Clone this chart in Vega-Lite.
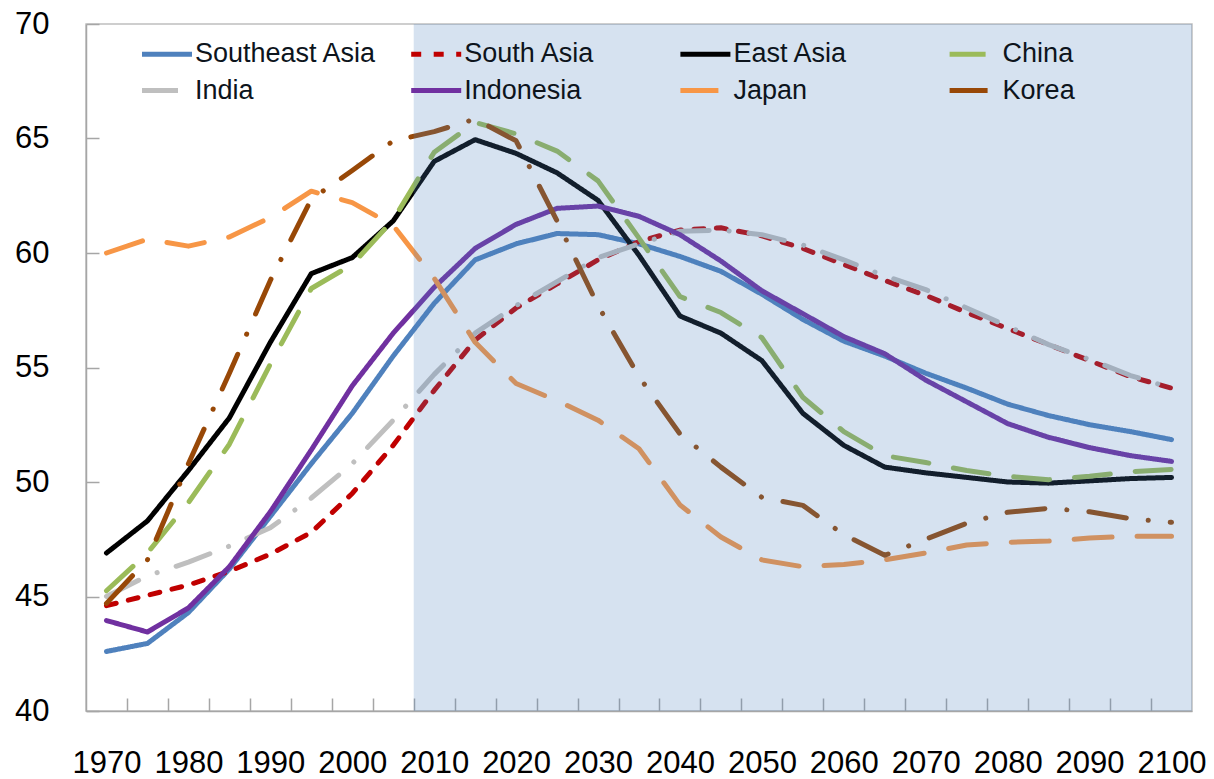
{
  "$schema": "https://vega.github.io/schema/vega-lite/v6.json",
  "width": 1106,
  "height": 687,
  "autosize": {"type": "none"},
  "padding": {"left": 86, "top": 24, "right": 22, "bottom": 68},
  "background": "white",
  "config": {
    "font": "Liberation Sans",
    "view": {"stroke": "#bfbfbf", "strokeWidth": 1.5}
  },
  "data": {
    "values": [
      {"region": "Southeast Asia", "year": 1970, "value": 42.6},
      {"region": "Southeast Asia", "year": 1975, "value": 42.95},
      {"region": "Southeast Asia", "year": 1980, "value": 44.3},
      {"region": "Southeast Asia", "year": 1985, "value": 46.2},
      {"region": "Southeast Asia", "year": 1990, "value": 48.5},
      {"region": "Southeast Asia", "year": 1995, "value": 50.8},
      {"region": "Southeast Asia", "year": 2000, "value": 53.0},
      {"region": "Southeast Asia", "year": 2005, "value": 55.5},
      {"region": "Southeast Asia", "year": 2010, "value": 57.8},
      {"region": "Southeast Asia", "year": 2015, "value": 59.7},
      {"region": "Southeast Asia", "year": 2020, "value": 60.4},
      {"region": "Southeast Asia", "year": 2025, "value": 60.85},
      {"region": "Southeast Asia", "year": 2030, "value": 60.8},
      {"region": "Southeast Asia", "year": 2035, "value": 60.4},
      {"region": "Southeast Asia", "year": 2040, "value": 59.85},
      {"region": "Southeast Asia", "year": 2045, "value": 59.2},
      {"region": "Southeast Asia", "year": 2050, "value": 58.2},
      {"region": "Southeast Asia", "year": 2055, "value": 57.1},
      {"region": "Southeast Asia", "year": 2060, "value": 56.15},
      {"region": "Southeast Asia", "year": 2065, "value": 55.5},
      {"region": "Southeast Asia", "year": 2070, "value": 54.75},
      {"region": "Southeast Asia", "year": 2075, "value": 54.1},
      {"region": "Southeast Asia", "year": 2080, "value": 53.4},
      {"region": "Southeast Asia", "year": 2085, "value": 52.9},
      {"region": "Southeast Asia", "year": 2090, "value": 52.5},
      {"region": "Southeast Asia", "year": 2095, "value": 52.2},
      {"region": "Southeast Asia", "year": 2100, "value": 51.85},

      {"region": "South Asia", "year": 1970, "value": 44.6},
      {"region": "South Asia", "year": 1975, "value": 45.05},
      {"region": "South Asia", "year": 1980, "value": 45.5},
      {"region": "South Asia", "year": 1985, "value": 46.1},
      {"region": "South Asia", "year": 1990, "value": 46.85},
      {"region": "South Asia", "year": 1995, "value": 47.8},
      {"region": "South Asia", "year": 2000, "value": 49.5},
      {"region": "South Asia", "year": 2005, "value": 51.6},
      {"region": "South Asia", "year": 2010, "value": 54.0},
      {"region": "South Asia", "year": 2015, "value": 56.2},
      {"region": "South Asia", "year": 2020, "value": 57.6},
      {"region": "South Asia", "year": 2025, "value": 58.65},
      {"region": "South Asia", "year": 2030, "value": 59.7},
      {"region": "South Asia", "year": 2035, "value": 60.5},
      {"region": "South Asia", "year": 2040, "value": 61.0},
      {"region": "South Asia", "year": 2045, "value": 61.1},
      {"region": "South Asia", "year": 2050, "value": 60.75},
      {"region": "South Asia", "year": 2055, "value": 60.2},
      {"region": "South Asia", "year": 2060, "value": 59.5},
      {"region": "South Asia", "year": 2065, "value": 58.8},
      {"region": "South Asia", "year": 2070, "value": 58.15},
      {"region": "South Asia", "year": 2075, "value": 57.4},
      {"region": "South Asia", "year": 2080, "value": 56.7},
      {"region": "South Asia", "year": 2085, "value": 56.0},
      {"region": "South Asia", "year": 2090, "value": 55.3},
      {"region": "South Asia", "year": 2095, "value": 54.6},
      {"region": "South Asia", "year": 2100, "value": 54.1},

      {"region": "East Asia", "year": 1970, "value": 46.9},
      {"region": "East Asia", "year": 1975, "value": 48.3},
      {"region": "East Asia", "year": 1980, "value": 50.5},
      {"region": "East Asia", "year": 1985, "value": 52.8},
      {"region": "East Asia", "year": 1990, "value": 56.1},
      {"region": "East Asia", "year": 1995, "value": 59.1},
      {"region": "East Asia", "year": 2000, "value": 59.8},
      {"region": "East Asia", "year": 2005, "value": 61.4},
      {"region": "East Asia", "year": 2010, "value": 64.0},
      {"region": "East Asia", "year": 2015, "value": 64.95},
      {"region": "East Asia", "year": 2020, "value": 64.35},
      {"region": "East Asia", "year": 2025, "value": 63.5},
      {"region": "East Asia", "year": 2030, "value": 62.3},
      {"region": "East Asia", "year": 2035, "value": 59.9},
      {"region": "East Asia", "year": 2040, "value": 57.25},
      {"region": "East Asia", "year": 2045, "value": 56.5},
      {"region": "East Asia", "year": 2050, "value": 55.3},
      {"region": "East Asia", "year": 2055, "value": 53.0},
      {"region": "East Asia", "year": 2060, "value": 51.6},
      {"region": "East Asia", "year": 2065, "value": 50.65},
      {"region": "East Asia", "year": 2070, "value": 50.4},
      {"region": "East Asia", "year": 2075, "value": 50.2},
      {"region": "East Asia", "year": 2080, "value": 50.0},
      {"region": "East Asia", "year": 2085, "value": 49.95},
      {"region": "East Asia", "year": 2090, "value": 50.05},
      {"region": "East Asia", "year": 2095, "value": 50.15},
      {"region": "East Asia", "year": 2100, "value": 50.2},

      {"region": "China", "year": 1970, "value": 45.25},
      {"region": "China", "year": 1975, "value": 46.9},
      {"region": "China", "year": 1980, "value": 49.1},
      {"region": "China", "year": 1985, "value": 51.65},
      {"region": "China", "year": 1990, "value": 55.15},
      {"region": "China", "year": 1995, "value": 58.45},
      {"region": "China", "year": 2000, "value": 59.5},
      {"region": "China", "year": 2005, "value": 61.45},
      {"region": "China", "year": 2010, "value": 64.4},
      {"region": "China", "year": 2015, "value": 65.7},
      {"region": "China", "year": 2020, "value": 65.2},
      {"region": "China", "year": 2025, "value": 64.45},
      {"region": "China", "year": 2030, "value": 63.15},
      {"region": "China", "year": 2035, "value": 60.65},
      {"region": "China", "year": 2040, "value": 58.1},
      {"region": "China", "year": 2045, "value": 57.4},
      {"region": "China", "year": 2050, "value": 56.3},
      {"region": "China", "year": 2055, "value": 53.7},
      {"region": "China", "year": 2060, "value": 52.2},
      {"region": "China", "year": 2065, "value": 51.15},
      {"region": "China", "year": 2070, "value": 50.85},
      {"region": "China", "year": 2075, "value": 50.5},
      {"region": "China", "year": 2080, "value": 50.25},
      {"region": "China", "year": 2085, "value": 50.1},
      {"region": "China", "year": 2090, "value": 50.25},
      {"region": "China", "year": 2095, "value": 50.45},
      {"region": "China", "year": 2100, "value": 50.55},

      {"region": "India", "year": 1970, "value": 45.0},
      {"region": "India", "year": 1975, "value": 45.9},
      {"region": "India", "year": 1980, "value": 46.5},
      {"region": "India", "year": 1985, "value": 47.2},
      {"region": "India", "year": 1990, "value": 48.0},
      {"region": "India", "year": 1995, "value": 49.3},
      {"region": "India", "year": 2000, "value": 50.8},
      {"region": "India", "year": 2005, "value": 52.7},
      {"region": "India", "year": 2010, "value": 54.7},
      {"region": "India", "year": 2015, "value": 56.5},
      {"region": "India", "year": 2020, "value": 57.7},
      {"region": "India", "year": 2025, "value": 58.75},
      {"region": "India", "year": 2030, "value": 59.8},
      {"region": "India", "year": 2035, "value": 60.4},
      {"region": "India", "year": 2040, "value": 60.95},
      {"region": "India", "year": 2045, "value": 61.0},
      {"region": "India", "year": 2050, "value": 60.8},
      {"region": "India", "year": 2055, "value": 60.35},
      {"region": "India", "year": 2060, "value": 59.7},
      {"region": "India", "year": 2065, "value": 59.0},
      {"region": "India", "year": 2070, "value": 58.4},
      {"region": "India", "year": 2075, "value": 57.6},
      {"region": "India", "year": 2080, "value": 56.8},
      {"region": "India", "year": 2085, "value": 56.0},
      {"region": "India", "year": 2090, "value": 55.35},
      {"region": "India", "year": 2095, "value": 54.65},
      {"region": "India", "year": 2100, "value": 54.1},

      {"region": "Indonesia", "year": 1970, "value": 43.95},
      {"region": "Indonesia", "year": 1975, "value": 43.45},
      {"region": "Indonesia", "year": 1980, "value": 44.5},
      {"region": "Indonesia", "year": 1985, "value": 46.3},
      {"region": "Indonesia", "year": 1990, "value": 48.7},
      {"region": "Indonesia", "year": 1995, "value": 51.4},
      {"region": "Indonesia", "year": 2000, "value": 54.2},
      {"region": "Indonesia", "year": 2005, "value": 56.5},
      {"region": "Indonesia", "year": 2010, "value": 58.5},
      {"region": "Indonesia", "year": 2015, "value": 60.2},
      {"region": "Indonesia", "year": 2020, "value": 61.25},
      {"region": "Indonesia", "year": 2025, "value": 61.95},
      {"region": "Indonesia", "year": 2030, "value": 62.05},
      {"region": "Indonesia", "year": 2035, "value": 61.6},
      {"region": "Indonesia", "year": 2040, "value": 60.8},
      {"region": "Indonesia", "year": 2045, "value": 59.65},
      {"region": "Indonesia", "year": 2050, "value": 58.35},
      {"region": "Indonesia", "year": 2055, "value": 57.35},
      {"region": "Indonesia", "year": 2060, "value": 56.35},
      {"region": "Indonesia", "year": 2065, "value": 55.6},
      {"region": "Indonesia", "year": 2070, "value": 54.45},
      {"region": "Indonesia", "year": 2075, "value": 53.5},
      {"region": "Indonesia", "year": 2080, "value": 52.55},
      {"region": "Indonesia", "year": 2085, "value": 51.95},
      {"region": "Indonesia", "year": 2090, "value": 51.5},
      {"region": "Indonesia", "year": 2095, "value": 51.15},
      {"region": "Indonesia", "year": 2100, "value": 50.9},

      {"region": "Japan", "year": 1970, "value": 60.0},
      {"region": "Japan", "year": 1975, "value": 60.6},
      {"region": "Japan", "year": 1980, "value": 60.3},
      {"region": "Japan", "year": 1985, "value": 60.7},
      {"region": "Japan", "year": 1990, "value": 61.55},
      {"region": "Japan", "year": 1995, "value": 62.7},
      {"region": "Japan", "year": 2000, "value": 62.2},
      {"region": "Japan", "year": 2005, "value": 61.2},
      {"region": "Japan", "year": 2010, "value": 58.9},
      {"region": "Japan", "year": 2015, "value": 56.1},
      {"region": "Japan", "year": 2020, "value": 54.3},
      {"region": "Japan", "year": 2025, "value": 53.55},
      {"region": "Japan", "year": 2030, "value": 52.7},
      {"region": "Japan", "year": 2035, "value": 51.45},
      {"region": "Japan", "year": 2040, "value": 49.0},
      {"region": "Japan", "year": 2045, "value": 47.6},
      {"region": "Japan", "year": 2050, "value": 46.6},
      {"region": "Japan", "year": 2055, "value": 46.3},
      {"region": "Japan", "year": 2060, "value": 46.4},
      {"region": "Japan", "year": 2065, "value": 46.6},
      {"region": "Japan", "year": 2070, "value": 46.9},
      {"region": "Japan", "year": 2075, "value": 47.25},
      {"region": "Japan", "year": 2080, "value": 47.37},
      {"region": "Japan", "year": 2085, "value": 47.42},
      {"region": "Japan", "year": 2090, "value": 47.55},
      {"region": "Japan", "year": 2095, "value": 47.63},
      {"region": "Japan", "year": 2100, "value": 47.63},

      {"region": "Korea", "year": 1970, "value": 44.7},
      {"region": "Korea", "year": 1975, "value": 46.6},
      {"region": "Korea", "year": 1980, "value": 50.8},
      {"region": "Korea", "year": 1985, "value": 54.75},
      {"region": "Korea", "year": 1990, "value": 58.8},
      {"region": "Korea", "year": 1995, "value": 62.35},
      {"region": "Korea", "year": 2000, "value": 63.6},
      {"region": "Korea", "year": 2005, "value": 64.9},
      {"region": "Korea", "year": 2010, "value": 65.3},
      {"region": "Korea", "year": 2015, "value": 65.85},
      {"region": "Korea", "year": 2020, "value": 64.9},
      {"region": "Korea", "year": 2025, "value": 61.4},
      {"region": "Korea", "year": 2030, "value": 57.7},
      {"region": "Korea", "year": 2035, "value": 54.6},
      {"region": "Korea", "year": 2040, "value": 52.1},
      {"region": "Korea", "year": 2045, "value": 50.65},
      {"region": "Korea", "year": 2050, "value": 49.33},
      {"region": "Korea", "year": 2055, "value": 48.98},
      {"region": "Korea", "year": 2060, "value": 47.7},
      {"region": "Korea", "year": 2065, "value": 46.8},
      {"region": "Korea", "year": 2070, "value": 47.5},
      {"region": "Korea", "year": 2075, "value": 48.2},
      {"region": "Korea", "year": 2080, "value": 48.68},
      {"region": "Korea", "year": 2085, "value": 48.85},
      {"region": "Korea", "year": 2090, "value": 48.7},
      {"region": "Korea", "year": 2095, "value": 48.4},
      {"region": "Korea", "year": 2100, "value": 48.24}
    ]
  },
  "resolve": {"axis": {"x": "independent"}},
  "layer": [
    {
      "mark": {"type": "line", "strokeWidth": 5, "strokeCap": "round", "strokeJoin": "round"},
      "encoding": {
        "x": {
          "field": "year",
          "type": "quantitative",
          "scale": {"domain": [1967.5, 2102.5], "nice": false, "zero": false},
          "axis": {
            "orient": "bottom",
            "title": null,
            "values": [1972.5, 1977.5, 1982.5, 1987.5, 1992.5, 1997.5, 2002.5, 2007.5, 2012.5, 2017.5, 2022.5, 2027.5, 2032.5,
                       2037.5, 2042.5, 2047.5, 2052.5, 2057.5, 2062.5, 2067.5, 2072.5, 2077.5, 2082.5, 2087.5, 2092.5, 2097.5],
            "labels": false,
            "tickSize": -13,
            "tickColor": "#a6a6a6",
            "tickWidth": 1.5,
            "domainColor": "#a6a6a6",
            "domainWidth": 1.5,
            "grid": false
          }
        },
        "y": {
          "field": "value",
          "type": "quantitative",
          "scale": {"domain": [40, 70], "nice": false, "zero": false},
          "axis": {
            "title": null,
            "values": [40, 45, 50, 55, 60, 65, 70],
            "tickSize": -13,
            "tickColor": "#a6a6a6",
            "tickWidth": 1.5,
            "domainColor": "#a6a6a6",
            "domainWidth": 1.5,
            "labelFontSize": 31,
            "labelColor": "#000000",
            "labelPadding": 50,
            "labelOverlap": false,
            "labelFlush": false,
            "grid": false
          }
        },
        "color": {
          "field": "region",
          "type": "nominal",
          "scale": {
            "domain": ["Southeast Asia", "South Asia", "East Asia", "China", "India", "Indonesia", "Japan", "Korea"],
            "range": ["#4f81bd", "#c00000", "#000000", "#9bbb59", "#bfbfbf", "#7030a0", "#f79646", "#984807"]
          },
          "legend": {
            "orient": "none",
            "legendX": 55,
            "legendY": 16.5,
            "direction": "horizontal",
            "columns": 4,
            "title": null,
            "padding": 0,
            "symbolType": "M-1.25,0H3.75",
            "symbolSize": 400,
            "symbolStrokeWidth": 5,
            "labelFontSize": 27,
            "labelOffset": 27,
            "labelLimit": 400,
            "labelColor": "#0d141c",
            "gridAlign": "all",
            "columnPadding": 24.2,
            "rowPadding": 8.5
          }
        },
        "strokeDash": {
          "field": "region",
          "type": "nominal",
          "scale": {
            "domain": ["Southeast Asia", "South Asia", "East Asia", "China", "India", "Indonesia", "Japan", "Korea"],
            "range": [[1, 0], [10, 12.5], [1, 0], [36, 25], [36, 20, 0.1, 20], [1, 0], [38, 25], [38, 22, 0.1, 22]]
          }
        }
      }
    },
    {
      "data": {"values": [{"start": 2007.5, "end": 2102.5}]},
      "mark": {"type": "rect", "fill": "#4f81bd", "opacity": 0.23},
      "encoding": {
        "x": {
          "field": "start",
          "type": "quantitative",
          "axis": {
            "orient": "bottom",
            "title": null,
            "values": [1970, 1980, 1990, 2000, 2010, 2020, 2030, 2040, 2050, 2060, 2070, 2080, 2090, 2100],
            "format": "d",
            "ticks": false,
            "tickSize": 0,
            "domain": false,
            "labelFontSize": 31,
            "labelColor": "#000000",
            "labelPadding": 68,
            "labelBaseline": "bottom",
            "labelOverlap": false,
            "labelFlush": false,
            "labelBound": false,
            "grid": false
          }
        },
        "x2": {"field": "end"}
      }
    }
  ]
}
